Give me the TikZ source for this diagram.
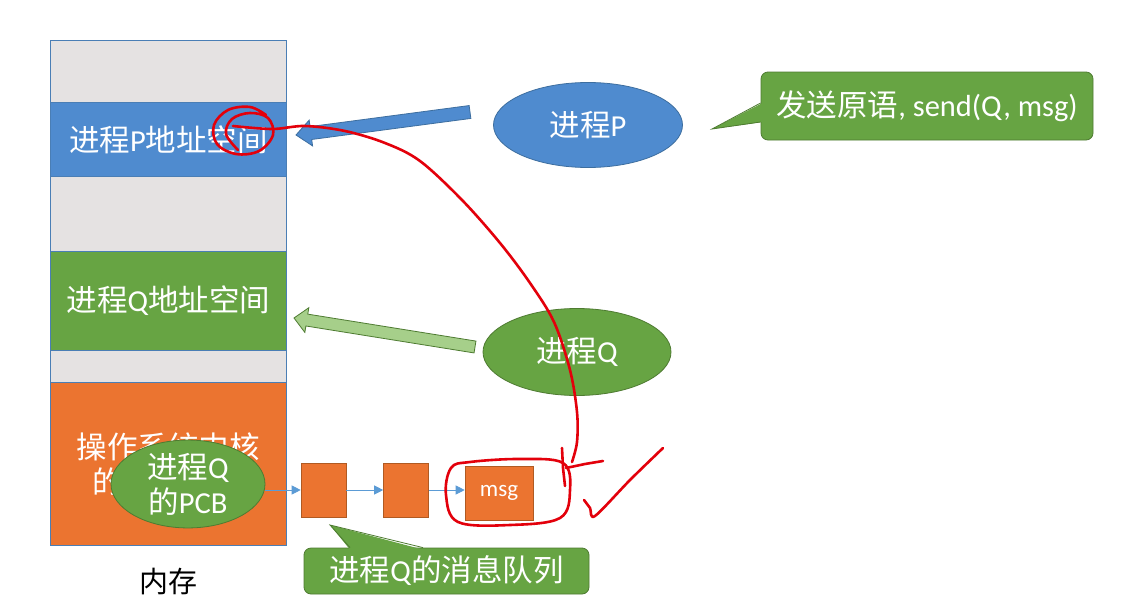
\documentclass[tikz,border=0pt]{standalone}
\usepackage{fontspec}
\setmainfont{Carlito}
\newfontfamily\cjk{Noto Sans CJK SC}
\usetikzlibrary{calc,arrows.meta,shapes.geometric}
\newcommand\zh[1]{{\cjk #1}}
\definecolor{pblue}{HTML}{4F8BCF}
\definecolor{pblueline}{HTML}{3D6E9F}
\definecolor{pgreen}{HTML}{67A443}
\definecolor{pgreenline}{HTML}{4E7B31}
\definecolor{lgreen}{HTML}{A6CF8A}
\definecolor{porange}{HTML}{EB7430}
\definecolor{porangeline}{HTML}{B05A22}
\definecolor{pgray}{HTML}{E5E2E2}
\definecolor{memline}{HTML}{4A7EB5}
\definecolor{qline}{HTML}{5B9BD5}
\definecolor{pen}{HTML}{E3000B}
\newcommand\blockarr[6]{%
  \coordinate (ba-n) at ($(#2)!#5!(#1)$);
  \draw[#6] ($(#1)!#3!90:(#2)$) -- ($(ba-n)!#3!90:(#2)$) -- ($(ba-n)!#4!90:(#2)$) -- (#2)
    -- ($(ba-n)!#4!-90:(#2)$) -- ($(ba-n)!#3!-90:(#2)$) -- ($(#1)!#3!-90:(#2)$) -- cycle;}
\tikzset{
  txt/.style={font=\fontsize{30.5}{35}\selectfont, text=white, align=center},
  mem/.style={draw=memline, line width=0.8pt, minimum width=236pt, inner sep=0pt, anchor=north west, txt},
  proc/.style={ellipse, inner sep=0pt, line width=0.8pt, txt},
  qbox/.style={draw=porangeline, fill=porange, line width=0.6pt, inner sep=0pt, minimum height=54pt, txt},
  callbox/.style={rounded corners=7pt, draw=pgreenline, fill=pgreen, line width=0.8pt, inner sep=0pt, txt},
  qarrow/.style={draw=qline, line width=0.8pt, -{Triangle[length=9pt,width=9pt]}, qline},
  redpen/.style={draw=pen, line width=2.6pt, line cap=round, line join=round},
}
\begin{document}
\begin{tikzpicture}[x=1pt,y=-1pt]
\useasboundingbox[fill=white] (0,0) rectangle (1124,613);
% memory column
\node[mem, fill=pgray, minimum height=62pt] (g1) at (50,40) {};
\node[mem, fill=pblue, minimum height=74pt] (pas) at (50,102) {\zh{进程}P\zh{地址空间}};
\node[mem, fill=pgray, minimum height=75pt] (g2) at (50,176) {};
\node[mem, fill=pgreen, minimum height=99pt] (qas) at (50,251) {\zh{进程}Q\zh{地址空间}};
\node[mem, fill=pgray, minimum height=32pt] (g3) at (50,350) {};
\node[mem, fill=porange, minimum height=163pt] (kern) at (50,382) {\zh{操作系统内核}\\\zh{的地址空间}};
\node[font=\fontsize{29}{34}\selectfont] (memlbl) at (168,582) {\zh{内存}};
% processes
\node[proc, draw=pblueline, fill=pblue, minimum width=189pt, minimum height=85pt] (P) at (588,125) {\zh{进程}P};
\node[proc, draw=pgreenline, fill=pgreen, minimum width=188pt, minimum height=87pt] (Q) at (577,352) {\zh{进程}Q};
\node[proc, draw=pgreenline, fill=pgreen, minimum width=154pt, minimum height=76pt] (pcb) at (188,484) {\zh{进程}Q\\\zh{的}PCB};
% block arrows
\coordinate (pa-tail) at (470,112);
\coordinate (pa-tip) at (296,135);
\blockarr{pa-tail}{pa-tip}{6.5pt}{13pt}{15pt}{draw=pblueline, fill=pblue, line width=0.8pt}
\coordinate (qa-tail) at (475,347);
\coordinate (qa-tip) at (294,318);
\blockarr{qa-tail}{qa-tip}{6pt}{12.5pt}{13pt}{draw=pgreenline, fill=lgreen, line width=0.8pt}
% message queue
\node[qbox, minimum width=45pt] (b1) at (323.5,490) {};
\node[qbox, minimum width=45pt] (b2) at (406,490) {};
\node[qbox, minimum width=68pt, font=\fontsize{23}{27}\selectfont] (b3) at (499,493) {msg};
\draw[qarrow] (pcb.east |- b1.west) -- (b1.west);
\draw[qarrow] (b1.east) -- (b2.west);
\draw[qarrow] (b2.east) -- (b2.east -| b3.west);
% callouts
\node[callbox, minimum width=332pt, minimum height=68pt] (send) at (927,106) {\zh{发送原语}, send(Q, msg)};
\coordinate (send-tip) at (712,129);
\fill[pgreen] ([shift={(2,-3)}]send.west) -- (send-tip) -- ([shift={(2,16)}]send.west) -- cycle;
\draw[pgreenline, line width=0.8pt] ([shift={(0,-3)}]send.west) -- (send-tip) -- ([shift={(0,16)}]send.west);
\node[callbox, minimum width=285pt, minimum height=46pt] (queue) at (446.5,571) {\zh{进程}Q\zh{的消息队列}};
\coordinate (queue-tip) at (330,525);
\fill[pgreen] ([shift={(-96.5,2)}]queue.north) -- (queue-tip) -- ([shift={(-23.5,2)}]queue.north) -- cycle;
\draw[pgreenline, line width=0.8pt] ([shift={(-96.5,0)}]queue.north) -- (queue-tip) -- ([shift={(-23.5,0)}]queue.north);
% red hand-drawn annotations
\draw[redpen] plot[smooth, tension=0.6] coordinates {(266,115) (250,107) (228,110) (214,125) (217,144) (236,154) (259,151) (273,135) (268,118) (250,113) (232,119) (226,134) (238,150)};
\draw[redpen] plot[smooth, tension=0.55] coordinates {(233,126) (272,129) (305,126) (345,131) (385,143) (420,161) (462,200) (500,243) (530,283) (554,322) (570,370) (577,412) (577,442) (572,462)};
\draw[redpen] (562,448) -- (563,468) -- (565,486);
\draw[redpen] (566,468) -- (585,464) -- (603,461);
\draw[redpen] plot[smooth cycle, tension=0.6] coordinates {(470,462) (520,459) (563,463) (570,490) (560,518) (510,525) (458,522) (446,495) (451,468)};
\draw[redpen] plot[smooth, tension=0.5] coordinates {(584,500) (590,508) (595,516) (630,480) (663,448)};
\end{tikzpicture}
\end{document}
